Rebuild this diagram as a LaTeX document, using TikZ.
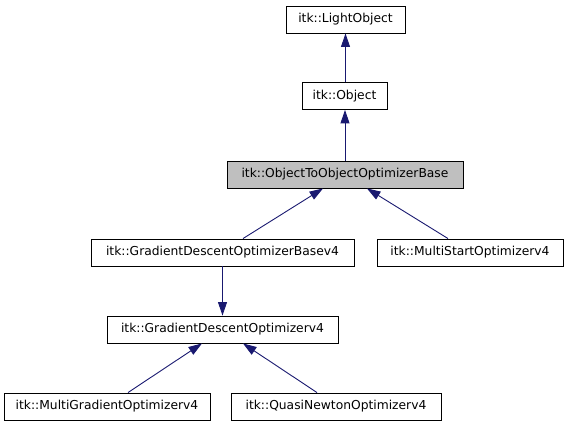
\documentclass[tikz,border=0pt]{standalone}
\usepackage{fontspec}
\setmainfont{DejaVu Sans}
\usetikzlibrary{arrows.meta}
\definecolor{edgeblue}{HTML}{191970}
\definecolor{curgray}{HTML}{BFBFBF}
\tikzset{
  cls/.style={draw=black, line width=0.9pt, fill=white, rectangle, minimum height=27pt, inner sep=0pt, font=\fontsize{12.3}{14}\selectfont},
  edge/.style={draw=edgeblue, line width=0.9pt, -{Triangle[length=13.5pt,width=9pt]}}
}
\begin{document}
\begin{tikzpicture}[x=1pt,y=-1pt]
\useasboundingbox (0,0) rectangle (567,427);
\node[cls, minimum width=119pt] (lo) at (345.5,19.5) {itk::LightObject};
\node[cls, minimum width=85pt] (ob) at (344.5,96) {itk::Object};
\node[cls, minimum width=236pt, fill=curgray] (oto) at (345,174.5) {itk::ObjectToObjectOptimizerBase};
\node[cls, minimum width=263pt] (gdb) at (222.5,252.5) {itk::GradientDescentOptimizerBasev4};
\node[cls, minimum width=186pt] (ms) at (470,252.5) {itk::MultiStartOptimizerv4};
\node[cls, minimum width=231pt] (gd) at (222.5,329.5) {itk::GradientDescentOptimizerv4};
\node[cls, minimum width=206pt] (mg) at (107,406.5) {itk::MultiGradientOptimizerv4};
\node[cls, minimum width=210pt] (qn) at (336,406.5) {itk::QuasiNewtonOptimizerv4};
\draw[edge] (ob.north -| lo.south) -- (lo.south);
\draw[edge] (oto.north) -- (oto.north |- ob.south);
\draw[edge] ([xshift=20.5pt]gdb.north) -- ([xshift=-22pt]oto.south);
\draw[edge] ([xshift=-22pt]ms.north) -- ([xshift=22pt]oto.south);
\draw[edge] (gdb.south) -- (gd.north);
\draw[edge] ([xshift=21pt]mg.north) -- ([xshift=-20.5pt]gd.south);
\draw[edge] ([xshift=-19pt]qn.north) -- ([xshift=20.5pt]gd.south);
\end{tikzpicture}
\end{document}
